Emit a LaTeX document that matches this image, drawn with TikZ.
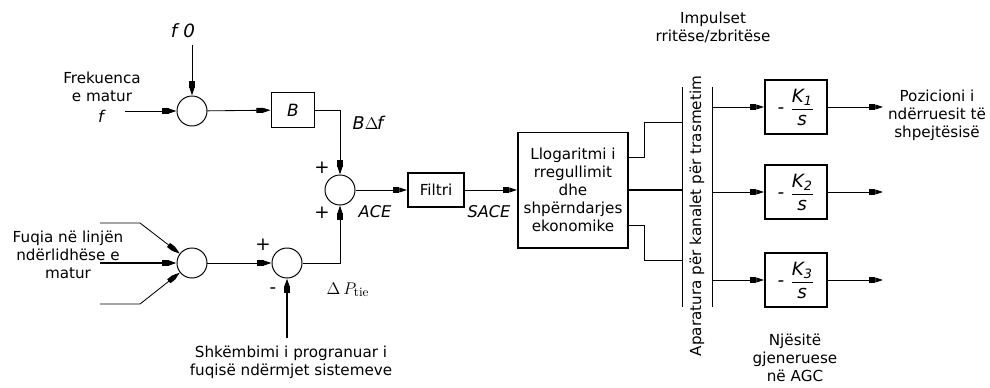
\documentclass[tikz,border=0pt]{standalone}
\usepackage{amsmath}
\usepackage{fontspec}
\setsansfont{DejaVu Sans}
\usetikzlibrary{arrows.meta, positioning, calc}
\tikzset{
  font=\sffamily\fontsize{10.8}{12.8}\selectfont,
  >={Rectangle[length=4.5pt, width=3.6pt] Triangle[length=5.5pt, width=3.4pt]},
  %
  sig/.style={draw=black, line width=0.6pt, ->},
  sigbold/.style={sig, line width=1.1pt},
  wire/.style={draw=black, line width=0.7pt},
  wirebold/.style={wire, line width=1.2pt},
  %
  sumpt/.style={circle, draw, line width=0.7pt, minimum size=0.75cm, inner sep=0pt},
  blk/.style={draw, line width=1.4pt, inner sep=2pt, align=center},
  %
  lbl/.style={align=center, inner sep=1pt},
  mlbl/.style={font=\sffamily\itshape\fontsize{11.5}{13}\selectfont, inner sep=1pt},
  sgn/.style={font=\sffamily\fontsize{13}{13}\selectfont, inner sep=0pt},
}
\newcommand{\kgain}[1]{-\ \ensuremath{\dfrac{\textit{K}_{\textit{#1}}}{\textit{s}}}}

\begin{document}
\begin{tikzpicture}[x=0.025cm, y=-0.025cm]
\useasboundingbox (0,0) rectangle (990,387);

% =========================================================================
% frequency branch
\node[sumpt] (sf) at (192,111) {};
\node[mlbl, font=\sffamily\itshape\fontsize{13}{14}\selectfont] (f0) at (183,31) {f\,\,0};
\coordinate (f0in) at (192,45);
\coordinate (fin) at (125,111);
\node[lbl] (frek) at (102,87) {Frekuenca\\e matur};
\node[mlbl] (fsym) at (101,116) {f};
\node[blk, minimum width=1.075cm, minimum height=0.875cm,
      font=\sffamily\itshape\fontsize{12}{13}\selectfont] (B) at (293,110) {B};

\draw[sig] (f0in) -- (sf);
\draw[sig] (fin) -- (sf);
\draw[sig] (sf) -- (B);

% =========================================================================
% tie-line power branch
\node[sumpt] (sp) at (192,263) {};
\node[sumpt] (sd) at (287,263) {};
\node[sumpt] (sace) at (340,190) {};
\coordinate (pin1) at (100,223);
\coordinate (pin2) at (100,263);
\coordinate (pin3) at (100,304);
\coordinate (schin) at (287,338);
\node[lbl] (fuqia) at (68,255) {Fuqia në linjën\\ndërlidhëse e\\matur};
\node[lbl] (shk) at (291,362) {Shkëmbimi i progranuar i\\fuqisë ndërmjet sistemeve};

\draw[sig] (pin1) -- ++(40,0) -- (sp);
\draw[sigbold] (pin2) -- (sp);
\draw[sig] (pin3) -- ++(40,0) -- (sp);
\draw[sig] (sp) -- (sd);
\draw[sigbold] (schin) -- (sd);

\draw[sig] (B) -| (sace);
\draw[sig] (sd) -| (sace);

\node[sgn] at (263,245) {+};
\node[sgn] at (273,291) {-};
\node[sgn] at (322,168) {+};
\node[sgn] at (322,213) {+};
\node[mlbl, font=\sffamily\itshape\fontsize{12.5}{13}\selectfont] (bdf) at (368,123) {B$\Delta$\kern-1pt f};
\node[mlbl] (acelbl) at (375,212) {ACE};
\node[inner sep=1pt, font=\fontsize{13}{14}\selectfont] (dptie) at (348,290) {$\Delta\, P_{\mathrm{tie}}$};

% =========================================================================
% filter and economic dispatch
\node[blk, minimum width=1.4cm, minimum height=0.85cm] (filt) at (436,190) {Filtri};
\node[mlbl] (sacelbl) at (489,212) {SACE};
\node[blk, minimum width=2.75cm, minimum height=2.875cm] (alg) at (573,190)
  {Llogaritmi i\\rregullimit\\dhe\\shpërndarjes\\ekonomike};

\draw[sig] (sace) -- (filt);
\draw[sig] (filt) -- (alg);

% =========================================================================
% transmission channels
\coordinate (b1t) at (682,87);
\coordinate (b1b) at (682,307);
\coordinate (b2t) at (712,87);
\coordinate (b2b) at (712,307);
\draw[wire] (b1t) -- (b1b);
\draw[wire] (b2t) -- (b2b);
\node[rotate=90, inner sep=0pt] (apar) at (697,216) {Aparatura për kanalet për trasmetim};
\node[lbl] (imp) at (713,27) {Impulset\\rritëse/zbritëse};

\draw[wire] ($(alg.east)+(0,-33)$) -- ++(15,0) |- ($(b1t)+(0,35)$);
\draw[wirebold] (alg.east) -- (alg.east -| b1t);
\draw[wire] ($(alg.east)+(0,35)$) -- ++(15,0) |- ($(b1b)+(0,-47)$);

% =========================================================================
% generating units
\foreach \k/\yy in {1/107, 2/192, 3/280} {
  \node[blk, minimum width=1.55cm, minimum height=1.35cm, inner sep=1pt,
        font=\sffamily\itshape\fontsize{13}{14}\selectfont] (k\k) at (796,\yy) {\kgain{\k}};
  \draw[sig] (b2t |- k\k) -- (k\k);
  \draw[sig] (k\k.east) -- ++(55,0);
}
\node[lbl] (poz) at (937,115) {Pozicioni i\\ndërruesit të\\shpejtësisë};
\node[lbl] (njes) at (795,358) {Njësitë\\gjeneruese\\në AGC};

\end{tikzpicture}
\end{document}
